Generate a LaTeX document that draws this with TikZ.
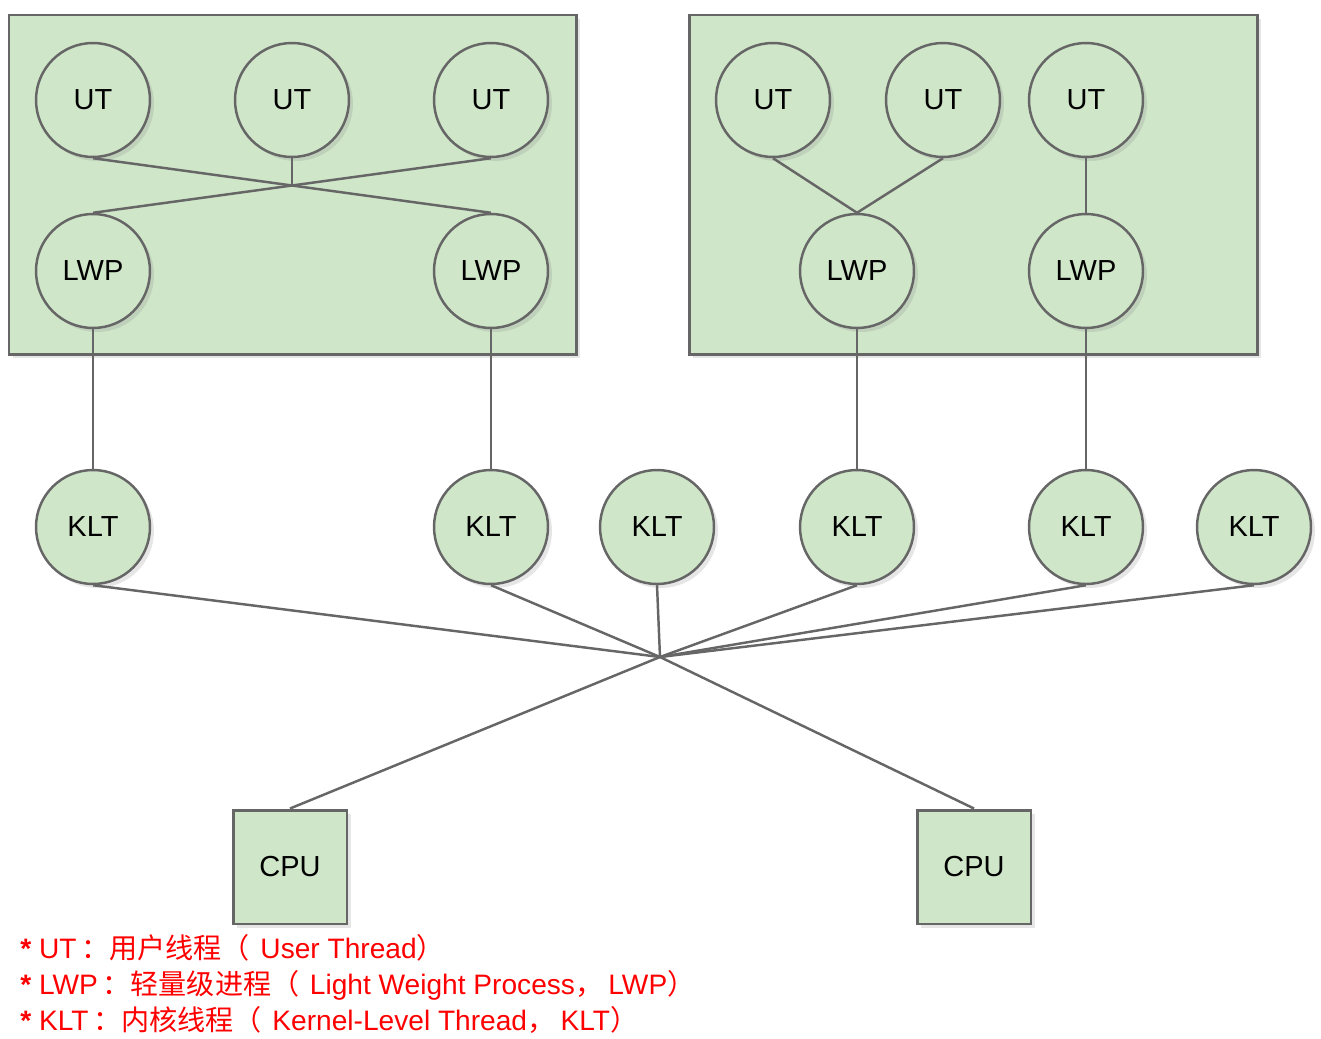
\documentclass[tikz,border=0pt]{standalone}
\usepackage{fontspec}
\setmainfont{Liberation Sans}
\newfontfamily\cjk{Noto Sans CJK SC}
\newcommand\zh[1]{{\cjk #1}}
\usetikzlibrary{shadows}
\definecolor{fillgreen}{RGB}{207,230,201}
\definecolor{edgegray}{RGB}{102,102,102}
\tikzset{x=0.02cm,y=-0.02cm,
 soft/.style={drop shadow={opacity=0.2,shadow xshift=0.08cm,shadow yshift=-0.08cm}},
 thread/.style={circle,draw=edgegray,fill=fillgreen,line width=1.4pt,minimum size=2.28cm,inner sep=0pt,soft,font=\fontsize{16.5}{18}\selectfont},
 procbox/.style={draw=edgegray,fill=fillgreen,line width=1.7pt,soft},
 cpubox/.style={rectangle,draw=edgegray,fill=fillgreen,line width=1.7pt,minimum size=2.28cm,inner sep=0pt,soft,font=\fontsize{16.5}{18}\selectfont},
 link/.style={draw=edgegray,line width=1.4pt},
 note/.style={text=red,anchor=base west,inner sep=0pt,font=\fontsize{16}{19}\selectfont},
 }

\begin{document}
\begin{tikzpicture}
    \useasboundingbox (0,0) rectangle (1321,1038);
    % processes
    \draw[procbox] (9,15) rectangle (576,354);
    \draw[procbox] (689,15) rectangle (1257,354);
    % left process
    \node[thread] (ua1) at (93,100) {UT};
    \node[thread] (ua2) at (292,100) {UT};
    \node[thread] (ua3) at (491,100) {UT};
    \node[thread] (la1) at (93,271) {LWP};
    \node[thread] (la2) at (491,271) {LWP};
    % right process
    \node[thread] (ub1) at (773,100) {UT};
    \node[thread] (ub2) at (943,100) {UT};
    \node[thread] (ub3) at (1086,100) {UT};
    \node[thread] (lb1) at (857,271) {LWP};
    \node[thread] (lb2) at (1086,271) {LWP};
    % kernel threads
    \node[thread] (k1) at (93,527) {KLT};
    \node[thread] (k2) at (491,527) {KLT};
    \node[thread] (k3) at (657,527) {KLT};
    \node[thread] (k4) at (857,527) {KLT};
    \node[thread] (k5) at (1086,527) {KLT};
    \node[thread] (k6) at (1254,527) {KLT};
    % cpus
    \node[cpubox] (c1) at (290,867) {CPU};
    \node[cpubox] (c2) at (974,867) {CPU};
    \coordinate (cross) at (292,185.5);
    \coordinate (hub) at (660,657);
    % UT - LWP
    \draw[link] (ua1.south) -- (la2.north);
    \draw[link] (ua3.south) -- (la1.north);
    \draw[link] (ua2.south) -- (cross);
    \draw[link] (ub1.south) -- (lb1.north);
    \draw[link] (ub2.south) -- (lb1.north);
    \draw[link] (ub3.south) -- (lb2.north);
    % LWP - KLT
    \draw[link] (la1.south) -- (k1.north);
    \draw[link] (la2.south) -- (k2.north);
    \draw[link] (lb1.south) -- (k4.north);
    \draw[link] (lb2.south) -- (k5.north);
    % KLT - CPU
    \foreach \k in {k1,k2,k3,k4,k5,k6}
        \draw[link] (\k.south) -- (hub);
    \draw[link] (hub) -- (c1.north);
    \draw[link] (hub) -- (c2.north);
    % legend
    \node[note] (n1) at (20,958) {\textbf{*} UT\zh{\,：用户线程（}\kern6pt User Thread\zh{）}};
    \node[note] (n2) at (20,994) {\textbf{*} LWP\zh{\,：轻量级进程（}\kern6pt Light Weight Process\zh{，}\kern3pt LWP\zh{）}};
    \node[note] (n3) at (20,1030) {\textbf{*} KLT\zh{\,：内核线程（}\kern6pt Kernel-Level Thread\zh{，}\kern3pt KLT\zh{）}};
\end{tikzpicture}
\end{document}
